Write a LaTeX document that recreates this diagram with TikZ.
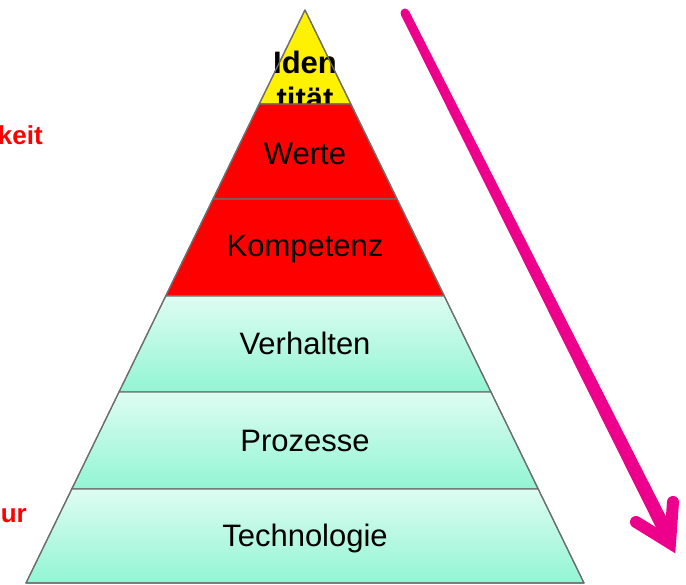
\documentclass[tikz,border=0pt]{standalone}
\usepackage{fontspec}
\setmainfont{Liberation Sans}
\usetikzlibrary{calc}
\definecolor{edge}{RGB}{110,110,110}
\definecolor{mintTop}{RGB}{222,252,242}
\definecolor{mintBot}{RGB}{146,245,212}
\definecolor{pink}{RGB}{236,0,140}
\begin{document}
\begin{tikzpicture}[x=1pt,y=-1pt,
  layer/.style={draw=edge,line width=1.2pt,line join=round},
  mint/.style={layer,top color=mintTop,bottom color=mintBot},
  lbl/.style={anchor=base,font=\fontsize{31}{36}\selectfont,text=black,inner sep=0pt},
  side/.style={anchor=base east,font=\fontsize{26}{30}\selectfont\bfseries,text=red,inner sep=0pt},
  bigarrow/.style={draw=pink,line width=12pt}]
\useasboundingbox (0,0) rectangle (686,585);
% apex and layer corners
\coordinate (A) at (305,10);
\coordinate (L1) at (259.2,104); \coordinate (R1) at (350.8,104);
\coordinate (L2) at (213.0,199); \coordinate (R2) at (397.0,199);
\coordinate (L3) at (165.7,296); \coordinate (R3) at (444.3,296);
\coordinate (L4) at (119.0,392); \coordinate (R4) at (491.0,392);
\coordinate (L5) at (71.8,489);  \coordinate (R5) at (538.2,489);
\coordinate (L6) at (26,583);    \coordinate (R6) at (584,583);
% top
\path[layer,fill=yellow] (A) -- (R1) -- (L1) -- cycle;
\node[anchor=base,font=\fontsize{31}{36}\selectfont\bfseries,inner sep=0pt] (iden) at (305,74) {Iden};
\node[anchor=base,font=\fontsize{31}{36}\selectfont\bfseries,inner sep=0pt] (titat) at (305,110) {tität};
% red layers
\path[layer,fill=red] (L1) -- (R1) -- (R2) -- (L2) -- cycle;
\path[layer,fill=red] (L2) -- (R2) -- (R3) -- (L3) -- cycle;
% mint layers
\path[mint] (L3) -- (R3) -- (R4) -- (L4) -- cycle;
\path[mint] (L4) -- (R4) -- (R5) -- (L5) -- cycle;
\path[mint] (L5) -- (R5) -- (R6) -- (L6) -- cycle;
\draw[layer] (A) -- (L6) -- (R6) -- cycle;
% labels
\node[lbl] (werte) at (305,165) {Werte};
\node[lbl] (komp) at (305,257) {Kompetenz};
\node[lbl] (verh) at (305,355) {Verhalten};
\node[lbl] (proz) at (305,451) {Prozesse};
\node[lbl] (tech) at (305,546) {Technologie};
% side texts
\node[side] (keit) at (43,145) {keit};
\node[side] (ur) at (27,522) {ur};
% arrow
\coordinate (s) at (405,13);
\coordinate (e) at (670,540);
\coordinate (tip) at (670,543);
\coordinate (a1) at (636,522);
\coordinate (a2) at (673,502);
\fill[pink] ($(s)!4.5pt!90:(e)$) -- ($(e)!7pt!-90:(s)$) -- ($(e)!7pt!90:(s)$) -- ($(s)!4.5pt!-90:(e)$) -- cycle;
\fill[pink] (s) circle[radius=4.5pt];
\draw[bigarrow,line cap=round,line join=miter] (a1) -- (tip) -- (a2);
\end{tikzpicture}
\end{document}
